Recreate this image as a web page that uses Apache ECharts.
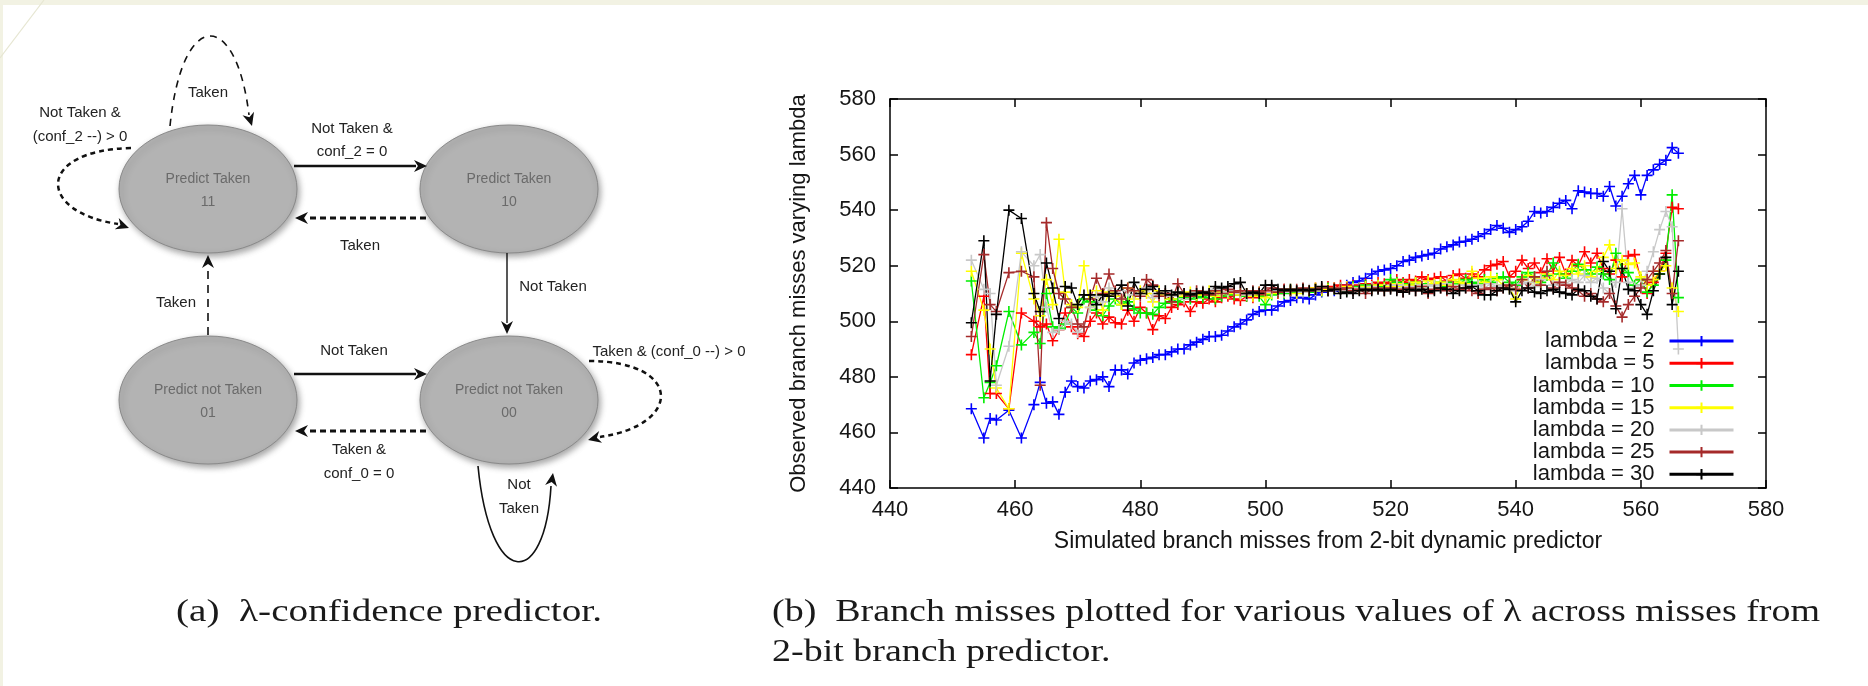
<!DOCTYPE html>
<html>
<head>
<meta charset="utf-8">
<script src="https://cdn.jsdelivr.net/npm/echarts@6/dist/echarts.min.js"></script>
<style>
  html, body { margin: 0; padding: 0; background: #fff; }
  #main { width: 1868px; height: 686px; }
</style>
</head>
<body>
<div id="main"></div>
<script>
// x: simulated branch misses (shared by all series)
const simMisses = [453, 455, 456, 457, 459, 461, 463, 464, 465, 466,
  467, 468, 469, 470, 471, 472, 473, 474, 475, 476,
  477, 478, 479, 480, 481, 482, 483, 484, 485, 486,
  487, 488, 489, 490, 491, 492, 493, 494, 495, 496,
  497, 498, 499, 500, 501, 502, 503, 504, 505, 506,
  507, 508, 509, 510, 511, 512, 513, 514, 515, 516,
  517, 518, 519, 520, 521, 522, 523, 524, 525, 526,
  527, 528, 529, 530, 531, 532, 533, 534, 535, 536,
  537, 538, 539, 540, 541, 542, 543, 544, 545, 546,
  547, 548, 549, 550, 551, 552, 553, 554, 555, 556,
  557, 558, 559, 560, 561, 562, 563, 564, 565, 566]

// observed branch misses for each lambda
const lambda2 = [468.5, 458, 465, 464.5, 468, 458, 470, 478, 470.5, 471,
  466.5, 474.5, 478.5, 476.5, 476, 478.5, 479, 480, 476.5, 482.5,
  482.5, 481, 485, 486, 486.5, 487, 488, 488, 489, 490,
  490, 491.5, 492.5, 493.5, 494.5, 494.5, 495, 496.5, 498, 499,
  500.5, 502.5, 503.5, 504, 504, 505.5, 507, 507.5, 508.5, 508.5,
  508, 509.5, 510.5, 511, 511, 511.5, 513, 514, 514.5, 515.5,
  517, 518, 518.5, 519, 520, 521.5, 522, 523, 523.5, 524,
  524.5, 526, 526.8, 527.5, 528.5, 528.8, 529.5, 530.5, 531.5, 533,
  534.5, 533.5, 532, 533, 534, 536, 539.5, 539, 539.5, 541,
  542.5, 543.5, 540.5, 547, 546.5, 546, 546, 545, 548.5, 541.5,
  545, 549.5, 552.5, 545.5, 552.5, 554.5, 556.5, 558, 562.5, 560.5]

const lambda5 = [488, 509, 474, 474, 468.5, 503, 500, 498, 499, 493,
  497, 503, 498, 495.5, 494.5, 500, 503, 499, 501.5, 499.5,
  499, 504, 500, 505, 503, 497, 502, 501, 505, 506,
  507, 503.5, 507, 506.5, 508, 507, 508.5, 509, 508, 507.5,
  509, 508.5, 510, 509.5, 511, 510, 511.5, 511, 510.5, 511.5,
  511, 512, 511.5, 512.5, 512, 513, 512.5, 513, 512, 513.5,
  513, 514, 513.5, 514, 515, 514, 515, 514.5, 516, 515,
  515.5, 516, 514.5, 516.5, 517, 515.5, 517, 516, 518.5, 520,
  520.5, 521.5, 516, 518, 522, 519, 521, 517.5, 522.5, 518,
  523, 517, 522, 520, 525, 521, 524.5, 519, 517, 522,
  516, 523.5, 524, 515, 510, 514, 518, 524.5, 541, 540.5]

const lambda10 = [514.5, 472.5, 478, 484, 503.5, 491.5, 496, 492, 510, 498,
  497.5, 499, 505, 503, 508, 507, 504, 502, 505.5, 508,
  506, 507, 504.5, 503, 503, 502.5, 505, 506.5, 508, 507,
  508.5, 508, 509, 508.5, 509.5, 508, 509, 510, 509.5, 510,
  509, 510.5, 509, 506, 509.5, 510.5, 510, 511, 510.5, 511,
  510.5, 511.5, 511, 512, 511.5, 512, 511, 512.5, 512, 513,
  512.5, 513, 512.5, 515, 514, 513.5, 513, 514, 512.5, 513.5,
  513, 514, 512.5, 514, 513.5, 515, 514, 513.5, 515, 514,
  515.5, 516, 514, 513, 516, 517.5, 516, 514, 516.5, 521,
  517, 515.5, 518, 520.5, 518.5, 517, 519.5, 517, 515, 524.5,
  519, 517.5, 513, 515, 510.5, 513, 517, 522, 545.5, 508.5]

const lambda15 = [518, 504, 490, 476, 468.5, 524.5, 508, 502, 515, 506,
  529.5, 510.5, 506, 505, 520, 505, 511, 504, 510.5, 509,
  506, 512, 508, 511, 510, 507, 511, 509.5, 508, 510.5,
  509, 510.5, 509.5, 510, 511, 509, 510.5, 510, 511, 509.5,
  510, 509, 510.5, 508.5, 510, 511, 510.5, 511.5, 510, 511.5,
  511, 512, 511, 511.5, 512, 511.5, 512.5, 512, 511.5, 512.5,
  512, 513, 512, 512.5, 513.5, 512.5, 513, 514, 513, 514.5,
  513.5, 514, 513, 515, 514, 513.5, 518, 515.5, 514, 516,
  515, 513, 512, 508, 515, 516.5, 514, 515.5, 517, 515,
  518, 516.5, 519, 517, 520, 516, 518, 523, 527.5, 519,
  522, 520.5, 521, 516, 513, 515, 518, 520, 512, 503.5]

const lambda20 = [522, 511.5, 510, 477, 491, 525, 520, 524, 505, 496,
  497, 500, 499, 496, 498, 505, 509, 507, 512, 510,
  508, 511, 509.5, 510, 512, 508.5, 510, 511, 509, 510.5,
  508, 509.5, 510.5, 511, 510, 511.5, 510, 510.5, 511, 510,
  509.5, 510.5, 510, 511, 510.5, 511, 510.5, 511.5, 511, 510.5,
  511.5, 511, 512, 511, 511.5, 512, 511, 511.5, 512, 511.5,
  512.5, 512, 511.5, 512, 513, 512, 512.5, 512, 513, 512.5,
  513, 512, 513.5, 512.5, 511.5, 513, 512.5, 513, 512, 513.5,
  512.5, 513, 512, 511, 513.5, 514, 512.5, 515, 518, 513,
  514, 513.5, 515, 514, 516.5, 514, 515.5, 512, 510, 514,
  540.5, 514, 512, 513, 518, 525, 533, 539.5, 534, 490]

const lambda25 = [494.5, 524, 506, 503.5, 517.5, 518, 516, 477, 535.5, 519,
  510, 508, 505, 499, 498, 508, 515.5, 510, 517, 511,
  508, 512, 511, 509, 515, 513, 509, 510, 507, 513.5,
  510, 509, 511, 510.5, 509.5, 511, 510, 511.5, 510.5, 511,
  510, 511, 510.5, 511, 512, 510.5, 511.5, 511, 511.5, 512,
  511, 511.5, 512, 511, 512, 511.5, 512, 511, 511.5, 510,
  511.5, 512, 511, 512, 511.5, 510.5, 512, 511, 512.5, 510,
  511.5, 512, 511, 512.5, 511.5, 512, 511, 510, 511.5, 512,
  511, 512, 513, 511.5, 515, 512, 516, 513, 518, 512,
  514, 513, 512, 511, 509, 510, 508, 507, 510, 505.5,
  501.5, 506, 509, 512, 515, 518, 521, 525.5, 510, 529]

const lambda30 = [499.5, 529, 478.5, 502.5, 540, 537, 510, 503.5, 521, 512,
  501, 512.5, 512, 506, 509.5, 509.5, 506, 509.5, 509, 510,
  513, 505.5, 514, 510, 511.5, 512.5, 510, 511, 509.5, 510.5,
  510, 509.5, 510, 510.5, 510, 512.5, 512, 512.5, 513.5, 514,
  510, 510.5, 510, 513, 513, 511.5, 511, 511.5, 511, 511.5,
  511, 511.5, 512.5, 511, 511.5, 510, 510.5, 510, 511, 511.5,
  511, 511.5, 511, 511.5, 511, 510.5, 511.5, 511, 511.5, 510.5,
  511, 512, 511.5, 510, 511, 512, 512.5, 511, 509.5, 509.5,
  511, 512, 511.5, 507, 511, 512, 510.5, 510, 511, 511.5,
  510.5, 510, 509.5, 511.5, 511, 509, 508, 521.5, 518, 504.5,
  519, 511.5, 511, 506, 502.5, 511, 517, 523, 506, 518]

const seriesNames = ['lambda = 2', 'lambda = 5', 'lambda = 10', 'lambda = 15',
  'lambda = 20', 'lambda = 25', 'lambda = 30']
const seriesValues = [lambda2, lambda5, lambda10, lambda15, lambda20, lambda25, lambda30]
const seriesColors = ['#0000ff', '#ff0000', '#00ee00', '#ffff00', '#c8c8c8', '#a52a2a', '#000000']
const axisTicks = [440, 460, 480, 500, 520, 540, 560, 580]

const plusSymbol = 'path://M0,5L10,5M5,0L5,10'
const chartFont = '"Liberation Sans", Arial, sans-serif'
const diagFont = '"Liberation Sans", Arial, sans-serif'
const serifFont = '"Liberation Serif", "DejaVu Serif", serif'

// ---- state diagram helpers ----
const arrowHead = (tx, ty, dx, dy) => {
  const len = Math.hypot(dx, dy)
  const ux = dx / len
  const uy = dy / len
  const L = 13
  const W = 6
  const bx = tx - ux * L
  const by = ty - uy * L
  return {
    type: 'polygon',
    shape: {
      points: [
        [tx, ty],
        [bx - uy * W, by + ux * W],
        [tx - ux * L * 0.7, ty - uy * L * 0.7],
        [bx + uy * W, by - ux * W]
      ]
    },
    style: { fill: '#111' }
  }
}

const label = (x, y, text) => ({
  type: 'text',
  x: x,
  y: y,
  style: {
    text: text,
    font: '15px ' + diagFont,
    fill: '#222',
    align: 'center',
    verticalAlign: 'middle'
  }
})

const edge = (x1, y1, x2, y2, width, dash) => ({
  type: 'line',
  shape: { x1: x1, y1: y1, x2: x2, y2: y2 },
  style: { stroke: '#111', lineWidth: width, lineDash: dash || null }
})

const curve = (p, width, dash) => ({
  type: 'bezierCurve',
  shape: { x1: p[0], y1: p[1], cpx1: p[2], cpy1: p[3], cpx2: p[4], cpy2: p[5], x2: p[6], y2: p[7] },
  style: { stroke: '#111', lineWidth: width, lineDash: dash || null, fill: null }
})

const states = [
  { cx: 208, cy: 189, name: 'Predict Taken', code: '11' },
  { cx: 509, cy: 189, name: 'Predict Taken', code: '10' },
  { cx: 208, cy: 400, name: 'Predict not Taken', code: '01' },
  { cx: 509, cy: 400, name: 'Predict not Taken', code: '00' }
]

const diagram = []
states.forEach(s => {
  diagram.push({
    type: 'ellipse',
    shape: { cx: s.cx, cy: s.cy, rx: 89, ry: 64 },
    style: {
      fill: '#b3b3b3', stroke: '#8a8a8a', lineWidth: 1,
      shadowBlur: 6, shadowColor: 'rgba(0,0,0,0.35)', shadowOffsetX: 2, shadowOffsetY: 3
    }
  })
  diagram.push({
    type: 'text', x: s.cx, y: s.cy - 10,
    style: { text: s.name, font: '14px ' + diagFont, fill: '#6a6a6a', align: 'center', verticalAlign: 'middle' }
  })
  diagram.push({
    type: 'text', x: s.cx, y: s.cy + 13,
    style: { text: s.code, font: '14px ' + diagFont, fill: '#6a6a6a', align: 'center', verticalAlign: 'middle' }
  })
})

diagram.push(
  // 11 -> 10
  edge(294, 166, 416, 166, 2.5), arrowHead(427, 166, 1, 0),
  label(352, 129, 'Not Taken &'), label(352, 152, 'conf_2 = 0'),
  // 10 -> 11
  edge(426, 218, 306, 218, 3, [6, 4]), arrowHead(295, 218, -1, 0),
  label(360, 246, 'Taken'),
  // 10 -> 00
  edge(507, 253, 507, 323, 1.4), arrowHead(507, 334, 0, 1),
  label(553, 287, 'Not Taken'),
  // 01 -> 11
  edge(208, 335, 208, 266, 1.6, [8, 6]), arrowHead(208, 255, 0, -1),
  label(176, 303, 'Taken'),
  // 01 -> 00
  edge(294, 374, 416, 374, 2.5), arrowHead(427, 374, 1, 0),
  label(354, 351, 'Not Taken'),
  // 00 -> 01
  edge(426, 431, 306, 431, 3, [6, 4]), arrowHead(295, 431, -1, 0),
  label(359, 450, 'Taken &'), label(359, 474, 'conf_0 = 0'),
  // 11 self loop (top)
  curve([170, 126, 182, 8, 236, 8, 249, 115], 1.6, [7, 6]), arrowHead(252, 126, 0.3, 1),
  label(208, 93, 'Taken'),
  // 11 self loop (left)
  curve([131, 148, 36, 150, 36, 212, 118, 224], 2.5, [5, 4]), arrowHead(129, 228, 1, 0.35),
  label(80, 113, 'Not Taken &'), label(80, 137, '(conf_2 --) > 0'),
  // 00 self loop (right)
  curve([589, 361, 683, 361, 683, 425, 600, 437], 2.5, [5, 4]), arrowHead(588, 440, -1, 0.25),
  label(669, 352, 'Taken & (conf_0 --) > 0'),
  // 00 self loop (bottom)
  curve([478, 466, 490, 590, 545, 590, 551, 486], 1.6), arrowHead(553, 473, 0.15, -1),
  label(519, 485, 'Not'), label(519, 509, 'Taken')
)

// ---- captions ----
const measure = document.createElement('canvas').getContext('2d')
const fitScale = (text, font, width) => {
  measure.font = font
  return width / measure.measureText(text).width
}
const capFont = '31px ' + serifFont
const capA = '(a)  λ-confidence predictor.'
const capB1 = '(b)  Branch misses plotted for various values of λ across misses from'
const capB2 = '2-bit branch predictor.'
const scaleA = fitScale(capA, capFont, 426)
const scaleB = fitScale(capB1, capFont, 1048)
const caption = (x, y, text, sx) => ({
  type: 'text', x: x, y: y, scaleX: sx,
  style: { text: text, font: capFont, fill: '#1a1a1a', align: 'left', verticalAlign: 'middle' }
})

const frame = [
  { type: 'rect', shape: { x: 0, y: 0, width: 1868, height: 5 }, style: { fill: '#f2f2e3' } },
  { type: 'rect', shape: { x: 0, y: 0, width: 3, height: 686 }, style: { fill: '#f2f2e3' } },
  { type: 'line', shape: { x1: 44, y1: 0, x2: 0, y2: 58 }, style: { stroke: '#e6e6d2', lineWidth: 1.2 } }
]

// ---- chart ----
const chart = echarts.init(document.getElementById('main'), null, { renderer: 'canvas' })

const axisBase = {
  type: 'value',
  min: axisTicks[0],
  max: axisTicks[axisTicks.length - 1],
  interval: axisTicks[1] - axisTicks[0],
  splitLine: { show: false },
  axisLine: { show: true, onZero: false, lineStyle: { color: '#000', width: 1.5 } },
  axisTick: { show: true, inside: true, length: 8, lineStyle: { color: '#000', width: 1.5 } }
}
const labelStyle = { color: '#151515', fontSize: 22, fontFamily: chartFont }

const option = {
  animation: false,
  backgroundColor: '#fff',
  grid: { left: 890, right: 102, top: 99, bottom: 198, containLabel: false },
  xAxis: [
    Object.assign({}, axisBase, {
      position: 'bottom',
      axisLabel: Object.assign({ margin: 11 }, labelStyle),
      name: 'Simulated branch misses from 2-bit dynamic predictor',
      nameLocation: 'middle',
      nameGap: 42,
      nameTextStyle: { color: '#151515', fontSize: 23, fontFamily: chartFont }
    }),
    Object.assign({}, axisBase, { position: 'top', axisLabel: { show: false } })
  ],
  yAxis: [
    Object.assign({}, axisBase, {
      position: 'left',
      axisLabel: Object.assign({ margin: 14 }, labelStyle),
      name: 'Observed branch misses varying lambda',
      nameLocation: 'middle',
      nameGap: 80,
      nameTextStyle: { color: '#151515', fontSize: 22, fontFamily: chartFont }
    }),
    Object.assign({}, axisBase, { position: 'right', axisLabel: { show: false } })
  ],
  legend: {
    orient: 'vertical',
    right: 128,
    top: 325,
    align: 'right',
    itemWidth: 64,
    itemHeight: 13,
    itemGap: 0,
    data: seriesNames,
    lineStyle: { width: 3 },
    textStyle: {
      color: '#151515', fontSize: 22, fontFamily: chartFont,
      lineHeight: 22.2, padding: [0, 10, 0, 0]
    }
  },
  series: seriesNames.map((name, k) => ({
    name: name,
    type: 'line',
    xAxisIndex: 0,
    yAxisIndex: 0,
    data: simMisses.map((x, i) => [x, seriesValues[k][i]]),
    symbol: plusSymbol,
    symbolSize: 11,
    showSymbol: true,
    connectNulls: true,
    lineStyle: { color: seriesColors[k], width: 1.3 },
    itemStyle: { color: seriesColors[k], borderColor: seriesColors[k], borderWidth: 1.6 },
    emphasis: { disabled: true }
  })),
  graphic: {
    elements: frame.concat(diagram, [
      caption(176, 613, capA, scaleA),
      caption(772, 613, capB1, scaleB),
      caption(772, 653, capB2, scaleB)
    ])
  }
}

chart.setOption(option)
</script>
</body>
</html>
